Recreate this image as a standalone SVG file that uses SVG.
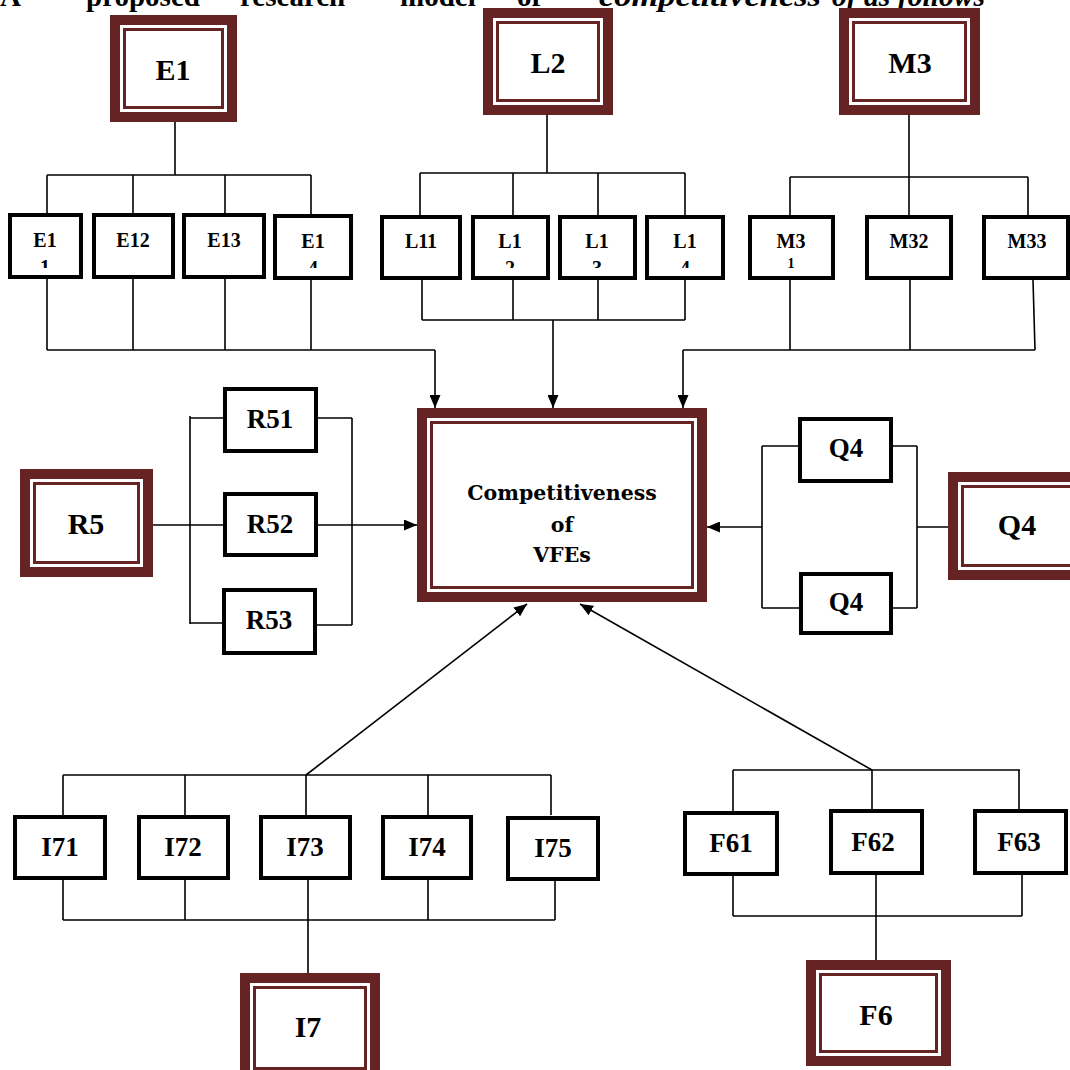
<svg xmlns="http://www.w3.org/2000/svg" width="1070" height="1070" viewBox="0 0 1070 1070">
<style>
.bg{fill:#fff}
.dbo{fill:#fff;stroke:#652323;stroke-width:10}
.dbi{fill:none;stroke:#652323;stroke-width:3}
.box{fill:#fff;stroke:#000;stroke-width:4}
.ln{fill:none;stroke:#000;stroke-width:1.6}
.t{font-family:"Liberation Serif","Times New Roman",serif;font-weight:bold;text-anchor:middle;fill:#000}
.s{font-size:20px}
.m{font-size:27px}
.b{font-size:30px}
.c{font-family:"DejaVu Serif",serif;font-weight:bold;font-size:20.5px;text-anchor:middle;fill:#000}
.h{font-family:"Liberation Serif","Times New Roman",serif;font-weight:bold;font-size:29px;fill:#000}
</style>
<defs>
<marker id="ah" markerUnits="userSpaceOnUse" markerWidth="13" markerHeight="11" refX="13" refY="5.5" orient="auto">
<path d="M0,0 L13,5.5 L0,11 z" fill="#000"/>
</marker>
<clipPath id="cl"><rect x="0" y="0" width="1070" height="268"/></clipPath>
</defs>
<rect class="bg" x="0" y="0" width="1070" height="1070"/>

<text class="h" y="6"><tspan x="0">A</tspan><tspan x="86">proposed</tspan><tspan x="240">research</tspan><tspan x="400">model</tspan><tspan x="517">of</tspan><tspan x="599" font-style="italic" textLength="222" lengthAdjust="spacingAndGlyphs">competitiveness</tspan><tspan x="832" font-style="italic" textLength="153" lengthAdjust="spacingAndGlyphs">of as follows</tspan></text>

<g id="connectors">
<path class="ln" d="M175,122 V175 M47,175 H311 M47,175 V213 M133,175 V213 M225,175 V213 M311,175 V214"/>
<path class="ln" d="M47,279 V350 M133,279 V350 M225,279 V350 M311,280 V350 M47,350 H435"/>
<path class="ln" marker-end="url(#ah)" d="M435,350 V408"/>
<path class="ln" d="M547,115 V173 M420,173 H685 M420,173 V215 M513,173 V215 M598,173 V215 M685,173 V215"/>
<path class="ln" d="M422,280 V320 M513,280 V320 M598,280 V320 M685,280 V320 M422,320 H685"/>
<path class="ln" marker-end="url(#ah)" d="M553,320 V408"/>
<path class="ln" d="M909,115 V177 M790,177 H1028 M790,177 V215 M909,177 V215 M1028,177 V215"/>
<path class="ln" d="M790,280 V350 M910,280 V350 M1033,280 L1035,350 M683,350 H1035"/>
<path class="ln" marker-end="url(#ah)" d="M683,350 V408"/>
<path class="ln" d="M153,525 H223 M190,416 V624 M190,418 H223 M190,623 H222 M318,418 H352 M317,625 H352 M352,418 V625"/>
<path class="ln" marker-end="url(#ah)" d="M318,525 H417"/>
<path class="ln" d="M762,446 V608 M762,446 H798 M762,608 H799 M893,446 H917 M893,608 H917 M917,446 V608 M917,527 H948"/>
<path class="ln" marker-end="url(#ah)" d="M762,527 H707"/>
<path class="ln" d="M63,775 H551 M63,775 V815 M185,775 V815 M306,775 V815 M428,775 V815 M551,775 V815"/>
<path class="ln" d="M63,880 V920 M185,880 V920 M308,880 V920 M428,880 V920 M555,880 V920 M63,920 H555 M308,920 V973"/>
<path class="ln" marker-end="url(#ah)" d="M306,775 L527,604"/>
<path class="ln" d="M733,770 H1020 M733,770 V811 M872,770 V809 M1019,770 V809"/>
<path class="ln" d="M733,876 V916 M876,875 V960 M1022,875 V916 M733,916 H1022"/>
<path class="ln" marker-end="url(#ah)" d="M872,770 L580,604"/>
</g>

<g id="E1"><rect class="dbo" x="115" y="20" width="117" height="97"/><rect class="dbi" x="124.5" y="29.5" width="98" height="78"/><text class="t b" x="173" y="80">E1</text></g>
<g id="L2"><rect class="dbo" x="488" y="13" width="120" height="97"/><rect class="dbi" x="497.5" y="22.5" width="101" height="78"/><text class="t b" x="548" y="73">L2</text></g>
<g id="M3"><rect class="dbo" x="844" y="13" width="131" height="97"/><rect class="dbi" x="853.5" y="22.5" width="112" height="78"/><text class="t b" x="910" y="73">M3</text></g>

<g id="E11"><rect class="box" x="10" y="215" width="71" height="62"/><text class="t s" x="45" y="247">E1</text><text class="t s" x="45" y="274" clip-path="url(#cl)">1</text></g>
<g id="E12"><rect class="box" x="94" y="215" width="79" height="62"/><text class="t s" x="133" y="247">E12</text></g>
<g id="E13"><rect class="box" x="184" y="215" width="80" height="62"/><text class="t s" x="224" y="247">E13</text></g>
<g id="E14"><rect class="box" x="275" y="216" width="76" height="62"/><text class="t s" x="313" y="248">E1</text><text class="t s" x="313" y="275" clip-path="url(#cl)">4</text></g>
<g id="L11"><rect class="box" x="382" y="217" width="78" height="61"/><text class="t s" x="421" y="248">L11</text></g>
<g id="L12"><rect class="box" x="473" y="217" width="75" height="61"/><text class="t s" x="510" y="248">L1</text><text class="t s" x="510" y="275" clip-path="url(#cl)">2</text></g>
<g id="L13"><rect class="box" x="560" y="217" width="75" height="61"/><text class="t s" x="597" y="248">L1</text><text class="t s" x="597" y="275" clip-path="url(#cl)">3</text></g>
<g id="L14"><rect class="box" x="647" y="217" width="76" height="61"/><text class="t s" x="685" y="248">L1</text><text class="t s" x="685" y="275" clip-path="url(#cl)">4</text></g>
<g id="M31"><rect class="box" x="750" y="217" width="83" height="61"/><text class="t s" x="791" y="248">M3</text><text class="t" font-size="14" x="791" y="268">1</text></g>
<g id="M32"><rect class="box" x="867" y="217" width="84" height="61"/><text class="t s" x="909" y="248">M32</text></g>
<g id="M33"><rect class="box" x="984" y="217" width="84" height="61"/><text class="t s" x="1027" y="248">M33</text></g>

<g id="CVFE"><rect class="dbo" x="422" y="413" width="280" height="184"/><rect class="dbi" x="431.5" y="422.5" width="261" height="165"/><text class="c" x="562" y="500">Competitiveness</text><text class="c" x="562" y="532">of</text><text class="c" x="562" y="562">VFEs</text></g>

<g id="R5"><rect class="dbo" x="25" y="474" width="123" height="98"/><rect class="dbi" x="34.5" y="483.5" width="104" height="79"/><text class="t b" x="86" y="534">R5</text></g>
<g id="R51"><rect class="box" x="225" y="389" width="91" height="62"/><text class="t m" x="270" y="428">R51</text></g>
<g id="R52"><rect class="box" x="225" y="494" width="91" height="61"/><text class="t m" x="270" y="533">R52</text></g>
<g id="R53"><rect class="box" x="224" y="590" width="91" height="63"/><text class="t m" x="269" y="629">R53</text></g>

<g id="Q4a"><rect class="box" x="800" y="419" width="91" height="62"/><text class="t m" x="846" y="457">Q4</text></g>
<g id="Q4b"><rect class="box" x="801" y="574" width="90" height="59"/><text class="t m" x="846" y="611">Q4</text></g>
<g id="Q4"><rect class="dbo" x="953" y="477" width="130" height="98"/><rect class="dbi" x="962.5" y="486.5" width="111" height="79"/><text class="t b" x="1017" y="535">Q4</text></g>

<g id="I71"><rect class="box" x="15" y="817" width="90" height="61"/><text class="t m" x="60" y="856">I71</text></g>
<g id="I72"><rect class="box" x="139" y="817" width="89" height="61"/><text class="t m" x="183" y="856">I72</text></g>
<g id="I73"><rect class="box" x="261" y="817" width="89" height="61"/><text class="t m" x="305" y="856">I73</text></g>
<g id="I74"><rect class="box" x="383" y="817" width="88" height="61"/><text class="t m" x="427" y="856">I74</text></g>
<g id="I75"><rect class="box" x="508" y="818" width="90" height="61"/><text class="t m" x="553" y="857">I75</text></g>

<g id="F61"><rect class="box" x="685" y="813" width="92" height="61"/><text class="t m" x="731" y="852">F61</text></g>
<g id="F62"><rect class="box" x="831" y="811" width="91" height="62"/><text class="t m" x="873" y="851">F62</text></g>
<g id="F63"><rect class="box" x="975" y="811" width="91" height="62"/><text class="t m" x="1019" y="851">F63</text></g>

<g id="I7"><rect class="dbo" x="245" y="978" width="130" height="100"/><rect class="dbi" x="254.5" y="987.5" width="111" height="81"/><text class="t b" x="308" y="1037">I7</text></g>
<g id="F6"><rect class="dbo" x="811" y="965" width="135" height="96"/><rect class="dbi" x="820.5" y="974.5" width="116" height="77"/><text class="t b" x="876" y="1025">F6</text></g>
</svg>
